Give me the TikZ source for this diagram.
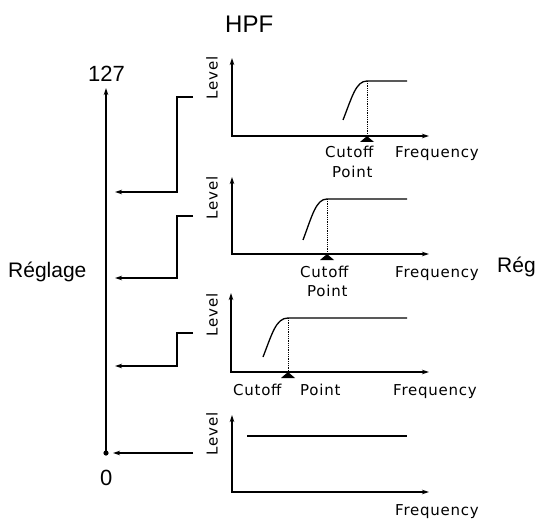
\documentclass[tikz,border=0pt]{standalone}
\usepackage{fontspec}
\setmainfont{Liberation Sans}
\newfontfamily\smallf[LetterSpace=5]{DejaVu Sans}
\usetikzlibrary{arrows.meta}
\begin{document}
\begin{tikzpicture}[x=1pt,y=-1pt,
  axisline/.style={line width=1.3pt,-{Stealth[length=7pt,width=4.5pt]}},
  stepline/.style={line width=1.2pt,-{Stealth[length=7pt,width=4.5pt]}},
  curveline/.style={line width=1.3pt},
  dotline/.style={line width=0.8pt,densely dotted},
  bigtxt/.style={inner sep=0pt,font=\fontsize{22}{24}\selectfont},
  smalltxt/.style={inner sep=0pt,font=\smallf\fontsize{15}{17}\selectfont},
  leveltxt/.style={inner sep=0pt,rotate=90,font=\smallf\fontsize{15}{17}\selectfont},
  cutmark/.style={fill=black}]
\useasboundingbox (0,0) rectangle (537,521);

% titles and big labels
\node[bigtxt,anchor=base west,font=\fontsize{24}{26}\selectfont] (hpf) at (225,33) {HPF};
\node[bigtxt,anchor=base west] (top) at (88,82) {127};
\node[bigtxt,anchor=base west] (zero) at (100,485) {0};
\node[bigtxt,anchor=base west,font=\fontsize{21}{23}\selectfont] (regl) at (8,277) {Réglage};
\node[bigtxt,anchor=base west,font=\fontsize{21}{23}\selectfont] (regr) at (497,272) {Rég};

% main axis
\coordinate (ax0) at (106,453);
\coordinate (ax1) at (106,88);
\draw[axisline] (ax0) -- (ax1);
\fill (ax0) circle (2.6);

% step connectors
\coordinate (s1a) at (193,97);  \coordinate (s1b) at (177,97);  \coordinate (s1c) at (177,192); \coordinate (s1d) at (115,192);
\coordinate (s2a) at (193,216); \coordinate (s2b) at (177,216); \coordinate (s2c) at (177,278); \coordinate (s2d) at (115,278);
\coordinate (s3a) at (193,333); \coordinate (s3b) at (177,333); \coordinate (s3c) at (177,366); \coordinate (s3d) at (115,366);
\coordinate (s4a) at (193,453); \coordinate (s4d) at (113,453);
\draw[stepline] (s1a) -- (s1b) -- (s1c) -- (s1d);
\draw[stepline] (s2a) -- (s2b) -- (s2c) -- (s2d);
\draw[stepline] (s3a) -- (s3b) -- (s3c) -- (s3d);
\draw[stepline] (s4a) -- (s4d);

% Level labels
\node[leveltxt] (lv1) at (212,78) {Level};
\node[leveltxt] (lv2) at (212,198) {Level};
\node[leveltxt] (lv3) at (212,315) {Level};
\node[leveltxt] (lv4) at (212,434) {Level};

% graph 1
\coordinate (g1o) at (232,136); \coordinate (g1y) at (232,58); \coordinate (g1x) at (429,136);
\draw[axisline,{Stealth[length=7pt,width=4.5pt]}-{Stealth[length=7pt,width=4.5pt]}] (g1y) -- (g1o) -- (g1x);
\coordinate (c1s) at (343,120); \coordinate (c1k) at (367,81); \coordinate (c1e) at (407,81); \coordinate (c1b) at (367,136);
\draw[curveline] (c1s) .. controls (352,97) and (356,81) .. (c1k) -- (c1e);
\draw[dotline] (c1k) -- (c1b);
\fill[cutmark] (c1b) -- ++(-7,6) -- ++(14,0) -- cycle;
\node[smalltxt,anchor=base west] (cut1) at (325,158) {Cutoff};
\node[smalltxt,anchor=base west] (pt1) at (332,178) {Point};
\node[smalltxt,anchor=base west] (fr1) at (395,158) {Frequency};

% graph 2
\coordinate (g2o) at (232,254); \coordinate (g2y) at (232,177); \coordinate (g2x) at (429,254);
\draw[axisline,{Stealth[length=7pt,width=4.5pt]}-{Stealth[length=7pt,width=4.5pt]}] (g2y) -- (g2o) -- (g2x);
\coordinate (c2s) at (303,240); \coordinate (c2k) at (327,199); \coordinate (c2e) at (407,199); \coordinate (c2b) at (327,254);
\draw[curveline] (c2s) .. controls (312,216) and (316,199) .. (c2k) -- (c2e);
\draw[dotline] (c2k) -- (c2b);
\fill[cutmark] (c2b) -- ++(-7,6) -- ++(14,0) -- cycle;
\node[smalltxt,anchor=base west] (cut2) at (300,277) {Cutoff};
\node[smalltxt,anchor=base west] (pt2) at (307,296) {Point};
\node[smalltxt,anchor=base west] (fr2) at (395,277) {Frequency};

% graph 3
\coordinate (g3o) at (231,372); \coordinate (g3y) at (231,293); \coordinate (g3x) at (429,372);
\draw[axisline,{Stealth[length=7pt,width=4.5pt]}-{Stealth[length=7pt,width=4.5pt]}] (g3y) -- (g3o) -- (g3x);
\coordinate (c3s) at (263,357); \coordinate (c3k) at (288,318); \coordinate (c3e) at (407,318); \coordinate (c3b) at (288,372);
\draw[curveline] (c3s) .. controls (272,334) and (276,318) .. (c3k) -- (c3e);
\draw[dotline] (c3k) -- (c3b);
\fill[cutmark] (c3b) -- ++(-7,6) -- ++(14,0) -- cycle;
\node[smalltxt,anchor=base west] (cut3) at (233,395) {Cutoff};
\node[smalltxt,anchor=base west] (pt3) at (300,395) {Point};
\node[smalltxt,anchor=base west] (fr3) at (393,395) {Frequency};

% graph 4
\coordinate (g4o) at (232,492); \coordinate (g4y) at (232,415); \coordinate (g4x) at (429,492);
\draw[axisline,{Stealth[length=7pt,width=4.5pt]}-{Stealth[length=7pt,width=4.5pt]}] (g4y) -- (g4o) -- (g4x);
\coordinate (c4s) at (247,436); \coordinate (c4e) at (407,436);
\draw[curveline] (c4s) -- (c4e);
\node[smalltxt,anchor=base west] (fr4) at (395,515) {Frequency};
\end{tikzpicture}
\end{document}
